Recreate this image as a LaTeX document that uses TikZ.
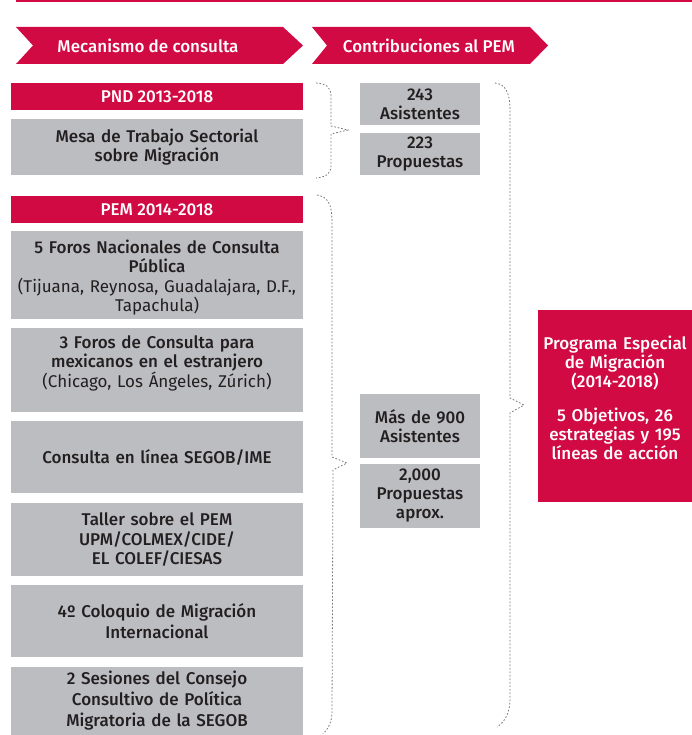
\documentclass[tikz,border=0pt]{standalone}
\usepackage{fontspec}
\setmainfont{Fira Sans}[BoldFont={* Medium}]
\definecolor{pemred}{RGB}{210,10,68}
\definecolor{pemgray}{RGB}{188,189,192}
\definecolor{pemtext}{RGB}{35,31,32}
\definecolor{bracegray}{RGB}{120,120,120}
\newcommand{\boxfont}{\fontsize{17}{19.5}\selectfont\bfseries}
\newcommand{\wideboxfont}{\fontsize{17}{21}\selectfont\bfseries}
\begin{document}
\begin{tikzpicture}[x=1pt,y=-1pt,
  redbar/.style={fill=pemred, text=white, minimum width=292pt, inner sep=0pt, font=\boxfont},
  graybox/.style={fill=pemgray, text=pemtext, minimum width=292pt, text width=288pt, align=center, inner sep=0pt, font=\boxfont},
  smallbox/.style={fill=pemgray, text=pemtext, minimum width=120pt, text width=118pt, align=center, inner sep=0pt, font=\fontsize{17}{19}\selectfont\bfseries},
  bigred/.style={fill=pemred, text=white, minimum width=154pt, minimum height=192pt, text width=154pt, align=center, inner sep=0pt, font=\fontsize{17}{19}\selectfont\bfseries},
  headarrow/.style={fill=pemred},
  headtext/.style={text=white, inner sep=0pt, font=\fontsize{17}{19}\selectfont\bfseries},
  bracestyle/.style={draw=bracegray, line width=0.8pt, dash pattern=on 1.6pt off 1.9pt},
]
\useasboundingbox (0,0) rectangle (692,735);

% top rule
\fill[pemred] (16,0) rectangle (692,2.5);

% header chevrons
\fill[headarrow] (16,27) -- (283,27) -- (303,45.5) -- (283,64) -- (16,64) -- (33,45.5) -- cycle;
\fill[headarrow] (312,27) -- (530,27) -- (548,45.5) -- (530,64) -- (312,64) -- (327,45.5) -- cycle;
\node[headtext] (h1) at (148,45.5) {Mecanismo de consulta};
\node[headtext] (h2) at (429,45.5) {Contribuciones al PEM};

% left column
\node[redbar, minimum height=27pt] (pnd) at (157,96.5) {PND 2013-2018};
\node[graybox, minimum height=56pt] (mesa) at (157,147) {Mesa de Trabajo Sectorial\\sobre Migración};
\node[redbar, minimum height=27pt] (pem) at (157,209.5) {PEM 2014-2018};
\node[graybox, minimum height=88pt, text depth=57pt] (foros5) at (157,275) {5 Foros Nacionales de Consulta\\Pública\\{\mdseries (Tijuana, Reynosa, Guadalajara, D.F.,}\\{\mdseries Tapachula)}};
\node[graybox, minimum height=84pt, text depth=56pt] (foros3) at (157,370) {3 Foros de Consulta para\\mexicanos en el estranjero\\{\mdseries (Chicago, Los Ángeles, Zúrich)}};
\node[graybox, minimum height=72pt] (linea) at (157,457) {Consulta en línea SEGOB/IME};
\node[graybox, minimum height=73pt] (taller) at (157,539.5) {Taller sobre el PEM\\UPM/COLMEX/CIDE/\\EL COLEF/CIESAS};
\node[graybox, minimum height=72pt, font=\wideboxfont] (coloquio) at (157,621) {4º Coloquio de Migración\\Internacional};
\node[graybox, minimum height=68pt, font=\wideboxfont] (sesiones) at (157,701) {2 Sesiones del Consejo\\Consultivo de Política\\Migratoria de la SEGOB};

% middle column
\node[smallbox, minimum height=42pt] (asis1) at (420,104) {243\\Asistentes};
\node[smallbox, minimum height=42pt] (prop1) at (420,154) {223\\Propuestas};
\node[smallbox, minimum height=64pt] (asis2) at (420,426) {Más de 900\\Asistentes};
\node[smallbox, minimum height=64pt] (prop2) at (420,496) {2,000\\Propuestas\\aprox.};

% result
\node[bigred, text depth=127pt] (prog) at (615,406) {Programa Especial\\de Migración\\(2014-2018)\\[15pt]5 Objetivos, 26\\estrategias y 195\\líneas de acción};

% braces
\draw[bracestyle] (316,83) .. controls (328,84) and (331,88) .. (331,97) -- (331,126) -- (348,130) -- (331,134) -- (331,166) .. controls (331,173) and (327,177) .. (316,178);
\draw[bracestyle] (317,195) .. controls (328,197) and (332,204) .. (332,222) -- (332,457) -- (347,463) -- (333,470) -- (332,712) .. controls (332,722) and (328,729) .. (323,734);
\draw[bracestyle] (495,83) .. controls (505,84) and (510,92) .. (510,110) -- (510,398) -- (524,405) -- (510,413) -- (510,700) .. controls (510,712) and (505,722) .. (497,727);
\end{tikzpicture}
\end{document}
